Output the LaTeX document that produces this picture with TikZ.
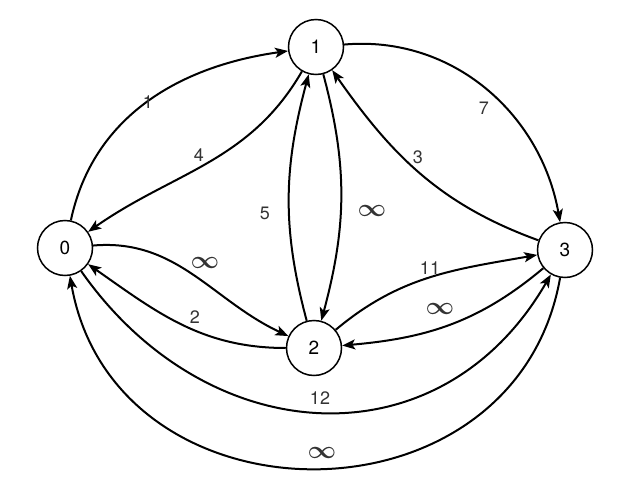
\documentclass[tikz,border=0pt]{standalone}
\usepackage{fontspec}
\usepackage{amsmath}
\setmainfont{TeX Gyre Heros}
\usetikzlibrary{arrows.meta}
\begin{document}
\begin{tikzpicture}[
  vert/.style={circle,draw,line width=1.5pt,minimum size=55pt,inner sep=0pt,font=\fontsize{19}{19}\selectfont},
  edge/.style={line width=2pt,-{Stealth[length=13pt,width=10pt,inset=3pt]}},
  lab/.style={text=black!80,font=\fontsize{18}{18}\selectfont},
  inf/.style={text=black!80,font=\fontsize{34}{34}\selectfont}]
\useasboundingbox (0pt,0pt) rectangle (625pt,-501pt);
\node[vert] (n0) at (65pt,-248pt) {0};
\node[vert] (n1) at (316pt,-47pt) {1};
\node[vert] (n2) at (314pt,-348pt) {2};
\node[vert] (n3) at (565pt,-250pt) {3};
\draw[edge] (n0) to[out=78,in=188] (n1);
\draw[edge] (n1) to[out=240,in=35] (n0);
\draw[edge] (n1) to[out=5,in=100] (n3);
\draw[edge] (n3) to[out=160,in=-55] (n1);
\draw[edge] (n2) to[out=105,in=255] (n1);
\draw[edge] (n1) to[out=-75,in=75] (n2);
\draw[edge] (n0) to[out=5,in=155] (n2);
\draw[edge] (n2) to[out=180,in=-35] (n0);
\draw[edge] (n2) to[out=40,in=190] (n3);
\draw[edge] (n3) to[out=220,in=5] (n2);
\draw[edge] (n0) to[out=-55,in=-120,looseness=1.2] (n3);
\draw[edge] (n3) to[out=-100,in=-80,looseness=1.35] (n0);
\node[lab] (l1) at (148pt,-102pt) {1};
\node[lab] (l4) at (199pt,-155pt) {4};
\node[lab] (l7) at (484pt,-108pt) {7};
\node[lab] (l3) at (418pt,-157pt) {3};
\node[lab] (l5) at (265pt,-213pt) {5};
\node[inf] (li1) at (372pt,-211pt) {$\boldsymbol{\infty}$};
\node[inf] (li2) at (205pt,-263pt) {$\boldsymbol{\infty}$};
\node[lab] (l2) at (195pt,-317pt) {2};
\node[lab] (l11) at (430pt,-268pt) {11};
\node[inf] (li3) at (440pt,-309pt) {$\boldsymbol{\infty}$};
\node[lab] (l12) at (320pt,-398pt) {12};
\node[inf] (li4) at (322pt,-453pt) {$\boldsymbol{\infty}$};
\end{tikzpicture}
\end{document}
